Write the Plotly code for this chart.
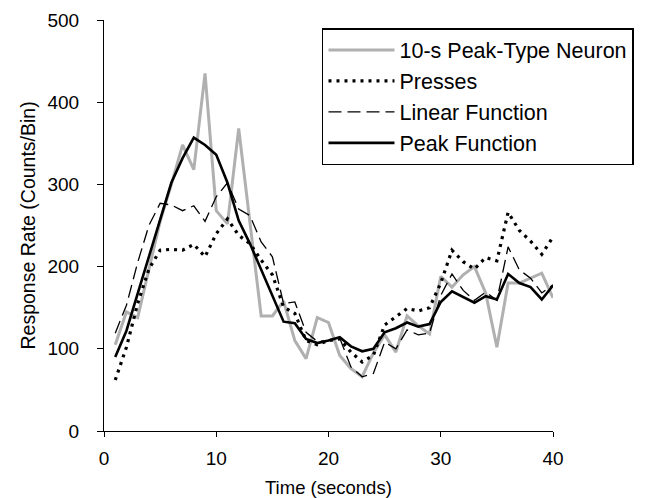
import plotly.graph_objects as go

time_s = list(range(1, 41))

neuron = [105, 145, 138, 198, 255, 300, 348, 318, 435, 268,
          252, 368, 255, 140, 140, 158, 110, 88, 138, 132,
          92, 76, 66, 95, 117, 96, 140, 128, 118, 188,
          175, 190, 200, 168, 102, 180, 180, 186, 192, 162]

presses = [62, 102, 155, 197, 220, 221, 220, 227, 212, 240,
           258, 238, 228, 208, 190, 151, 143, 110, 105, 110,
           112, 96, 84, 92, 129, 139, 149, 146, 150, 180,
           220, 206, 197, 211, 207, 266, 244, 231, 215, 236]

linear_fn = [119, 153, 205, 250, 277, 275, 268, 274, 255, 285,
             302, 270, 262, 230, 212, 155, 157, 120, 109, 110,
             113, 78, 66, 70, 108, 100, 123, 117, 119, 165,
             191, 171, 159, 169, 159, 224, 196, 186, 168, 178]

peak_fn = [90, 122, 167, 212, 258, 302, 332, 357, 348, 336,
           302, 256, 228, 196, 165, 133, 131, 112, 107, 110,
           114, 103, 97, 100, 120, 125, 132, 127, 130, 157,
           170, 163, 156, 164, 160, 191, 180, 175, 160, 177]

x_ticks = [0, 10, 20, 30, 40]
y_ticks = [0, 100, 200, 300, 400, 500]

x_title = "Time (seconds)"
y_title = "Response Rate (Counts/Bin)"

FONT = "Liberation Sans, Arial, Helvetica, sans-serif"

fig = go.Figure()
fig.add_trace(go.Scatter(x=time_s, y=neuron, mode="lines", name="10-s Peak-Type Neuron",
                         line=dict(color="#b0b0b0", width=3)))
fig.add_trace(go.Scatter(x=time_s, y=presses, mode="lines", name="Presses",
                         line=dict(color="black", width=3.2, dash="3px,5px")))
fig.add_trace(go.Scatter(x=time_s, y=linear_fn, mode="lines", name="Linear Function",
                         line=dict(color="black", width=1.3, dash="13px,6px")))
fig.add_trace(go.Scatter(x=time_s, y=peak_fn, mode="lines", name="Peak Function",
                         line=dict(color="black", width=2.6)))

fig.update_layout(
    width=652, height=498,
    margin=dict(l=104, r=99, t=20, b=67),
    paper_bgcolor="white", plot_bgcolor="white",
    font=dict(family=FONT, size=19, color="black"),
    showlegend=True,
    legend=dict(
        x=0.4855, y=0.9805, xanchor="left", yanchor="top",
        bordercolor="black", borderwidth=1.5, bgcolor="white",
        font=dict(size=21.5), itemwidth=66, tracegroupgap=0,
    ),
    xaxis=dict(
        range=[0, 40], tickvals=x_ticks, showgrid=False, zeroline=False,
        showline=True, linecolor="black", linewidth=1.2,
        ticks="outside", ticklen=5, tickwidth=1.2, tickcolor="black",
        ticklabelstandoff=5, automargin=False,
    ),
    yaxis=dict(
        range=[0, 500], tickvals=y_ticks, showgrid=False, zeroline=False,
        showline=True, linecolor="black", linewidth=1.2,
        ticks="outside", ticklen=6, tickwidth=1.2, tickcolor="black",
        ticklabelstandoff=14, automargin=False,
    ),
    annotations=[
        dict(text=x_title, xref="paper", yref="paper", x=0.5, y=0,
             xanchor="center", yanchor="middle", yshift=-56, showarrow=False,
             font=dict(size=18.5)),
        dict(text=y_title, xref="paper", yref="paper", x=0, y=0.5,
             xanchor="center", yanchor="middle", xshift=-77, textangle=-90,
             showarrow=False, font=dict(size=19.5)),
    ],
)

fig.write_html("out.html")
